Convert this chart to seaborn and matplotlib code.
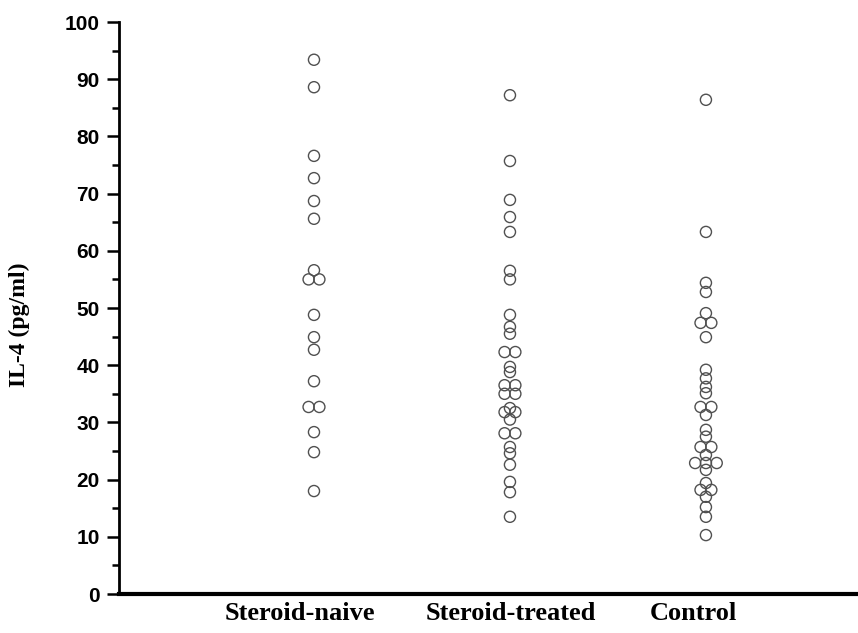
import numpy as np
import pandas as pd
import matplotlib
matplotlib.use("Agg")
import matplotlib.pyplot as plt
import seaborn as sns
from matplotlib.ticker import MultipleLocator

categories = ["Steroid-naive", "Steroid-treated", "Control"]

naive = [93.4, 88.6, 76.6, 72.7, 68.7, 65.6, 56.6, 55.0, 55.0, 48.8, 44.9,
         42.7, 37.2, 32.7, 32.7, 28.3, 24.8, 18.0]
treated = [87.2, 75.7, 68.9, 65.9, 63.3, 56.5, 55.0, 48.8, 46.7, 45.5, 42.3,
           42.3, 39.7, 38.8, 36.5, 36.5, 35.0, 35.0, 32.5, 31.8, 31.8, 30.5,
           28.1, 28.1, 25.7, 24.6, 22.6, 19.6, 17.8, 13.5]
control = [86.4, 63.3, 54.4, 52.8, 49.1, 47.4, 47.4, 44.9, 39.2, 37.7, 36.2,
           35.1, 32.7, 32.7, 31.3, 28.7, 27.5, 25.7, 25.7, 24.3, 22.9, 22.9,
           22.9, 21.7, 19.4, 18.2, 18.2, 17.0, 15.2, 13.5, 10.3]

groups = [naive, treated, control]
rows = []
for i, (cat, vals) in enumerate(zip(categories, groups)):
    for v in vals:
        rows.append({"group": cat, "gi": i, "value": v})
df = pd.DataFrame(rows)

# spread identical values side by side (column scatter style)
step = 0.055
df["n"] = df.groupby(["gi", "value"])["value"].transform("count")
df["k"] = df.groupby(["gi", "value"]).cumcount()
df["xpos"] = df["gi"] + (df["k"] - (df["n"] - 1) / 2) * step

fig = plt.figure(figsize=(8.58, 6.33), dpi=100)
ax = fig.add_axes([119 / 858, 39 / 633, (858 - 119) / 858, (594 - 22) / 633])

sns.scatterplot(data=df, x="xpos", y="value", marker="o", s=64,
                facecolors="none", edgecolor="#505050", linewidth=1.0,
                legend=False, ax=ax)
for coll in ax.collections:
    coll.set_facecolor("none")
    coll.set_edgecolor("#505050")

ax.set_xlim(-0.995, 2.776)
ax.set_ylim(0, 100)

for s in ["top", "right"]:
    ax.spines[s].set_visible(False)
ax.spines["left"].set_linewidth(2)
ax.spines["bottom"].set_linewidth(3)

ax.yaxis.set_major_locator(MultipleLocator(10))
ax.yaxis.set_minor_locator(MultipleLocator(5))
ax.tick_params(axis="y", which="major", length=9, width=1.8, pad=5,
               direction="out")
ax.tick_params(axis="y", which="minor", length=5, width=1.8, direction="out")
for lab in ax.get_yticklabels():
    lab.set_fontfamily("Liberation Sans")
    lab.set_fontweight("bold")
    lab.set_fontsize(15)

ax.set_xticks([-0.071, 1.005, 1.934])
ax.set_xticklabels(categories, fontfamily="Liberation Serif",
                   fontweight="bold", fontsize=19)
ax.tick_params(axis="x", length=0, pad=6)

ax.set_xlabel("")
ax.set_ylabel("IL-4 (pg/ml)", fontfamily="Liberation Serif",
              fontweight="bold", fontsize=17)
ax.yaxis.set_label_coords(-0.12, 0.47)

fig.savefig("out.png", dpi=100)
